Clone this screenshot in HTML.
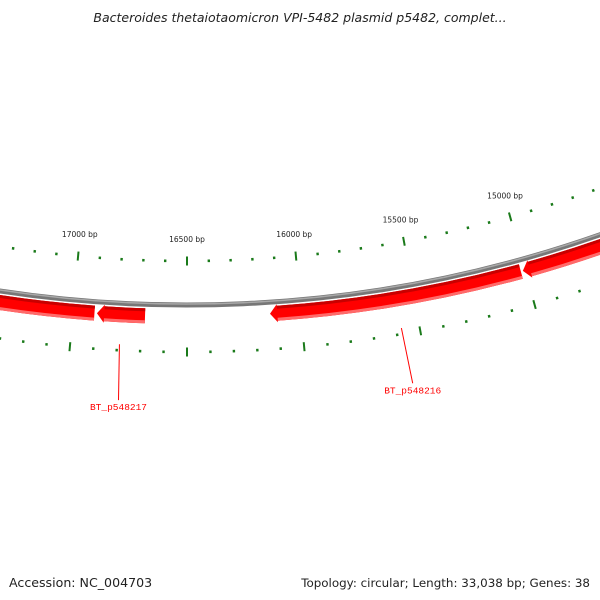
<!DOCTYPE html>
<html><head><meta charset="utf-8"><style>
body{margin:0;background:#fff}
svg{display:block;font-family:"DejaVu Sans","Liberation Sans",sans-serif}
</style></head><body>
<svg id="map" width="600" height="600" viewBox="0 0 600 600" xmlns="http://www.w3.org/2000/svg">
<text x="300" y="22" text-anchor="middle" font-size="12.5" font-style="italic" fill="#222">Bacteroides thetaiotaomicron VPI-5482 plasmid p5482, complet...</text>
<g id="ticks"></g>
<g id="backbone"></g>
<g id="genes"></g>
<g id="labels"></g>
<text x="9" y="587" font-size="12.6" fill="#222">Accession: NC_004703</text>
<text x="590" y="587" text-anchor="end" font-size="11.9" fill="#222">Topology: circular; Length: 33,038 bp; Genes: 38</text>
</svg>
<script>
const geneNames = ["BT_p548218", "BT_p548217", "BT_p548216", "BT_p548215"];
const geneStarts = [16906, 16684, 15019, 13000];
const geneEnds = [18800, 16895, 16136, 15010];
const geneLabeled = [false, true, true, false];
const tickLabels = ["17000 bp", "16500 bp", "16000 bp", "15500 bp", "15000 bp"];
const tickValues = [17000, 16500, 16000, 15500, 15000];

const NS = "http://www.w3.org/2000/svg";
const cx = 187, cy = -944, K = 0.000181, B0 = 16500;
function P(bp, r) { const t = (bp - B0) * K; return [cx - r * Math.sin(t), cy + r * Math.cos(t)]; }
function mk(tag, attrs, parent) { const e = document.createElementNS(NS, tag); for (const k in attrs) e.setAttribute(k, attrs[k]); parent.appendChild(e); return e; }
function arc(a, b, r) { const p = P(a, r), q = P(b, r); return `M${p[0]},${p[1]} A${r},${r} 0 0 1 ${q[0]},${q[1]}`; }

// ticks
const tg = document.getElementById("ticks");
for (let bp = 13000; bp <= 19000; bp += 100) {
  const major = bp % 500 === 0;
  [1205, 1296].forEach((r) => {
    const h = major ? 4.5 : 1.3;
    const a = P(bp, r - h), b = P(bp, r + h);
    const l = mk("line", { x1: a[0], y1: a[1], x2: b[0], y2: b[1], stroke: "#1a7a1a", "stroke-width": major ? 2 : 2.4 }, tg);
    
    
  });
}
tickValues.forEach((v, i) => {
  const p = P(v, 1186);
  const t = mk("text", { x: p[0], y: p[1], "text-anchor": "middle", "font-size": "7.5", fill: "#222" }, tg);
  t.textContent = tickLabels[i];
  
  
});

// backbone
const bb = document.getElementById("backbone");
const b1 = mk("path", { d: arc(13000, 19500, 1249), fill: "none", stroke: "#777", "stroke-width": 5 }, bb);


mk("path", { d: arc(13000, 19500, 1248), fill: "none", stroke: "#a8a8a8", "stroke-width": 1.5 }, bb);

// genes
const gg = document.getElementById("genes");
const r1 = 1253, r2 = 1268, rm = 1260.5, H = 32;
geneStarts.forEach((s, i) => {
  const e = geneEnds[i];
  const g = mk("g", {}, gg);
  
  
  const a1 = P(s, r1), b1p = P(e - H, r1), tip = P(e, rm), b2 = P(e - H, r2), a2 = P(s, r2);
  const a0 = P(e - H, r1 - 1.5), a3 = P(e - H, r2 + 1.5);
  const d = `M${a1[0]},${a1[1]} A${r1},${r1} 0 0 1 ${b1p[0]},${b1p[1]} L${a0[0]},${a0[1]} L${tip[0]},${tip[1]} L${a3[0]},${a3[1]} L${b2[0]},${b2[1]} A${r2},${r2} 0 0 0 ${a2[0]},${a2[1]} Z`;
  mk("path", { d, fill: "#ff0000" }, g);
  mk("path", { d: arc(s, e - H, r1 + 1.5), fill: "none", stroke: "#c80000", "stroke-width": 3 }, g);
  mk("path", { d: arc(s, e - H, r2 - 1.5), fill: "none", stroke: "#ff6a6a", "stroke-width": 3 }, g);
});

// labels
const lg = document.getElementById("labels");
geneStarts.forEach((s, i) => {
  if (!geneLabeled[i]) return;
  const mid = (s + geneEnds[i]) / 2;
  const a = P(mid, 1290), b = P(mid, 1346);
  const l = mk("line", { x1: a[0], y1: a[1], x2: b[0] + 2, y2: b[1], stroke: "#ff0000", "stroke-width": 1 }, lg);
  
  
  const t = mk("text", { x: b[0] + 2, y: b[1] + 10, "text-anchor": "middle", "font-size": "9.5", fill: "#ff0000", "font-family": "Liberation Mono, monospace" }, lg);
  t.textContent = geneNames[i];
  
  
});
</script>
</body></html>
